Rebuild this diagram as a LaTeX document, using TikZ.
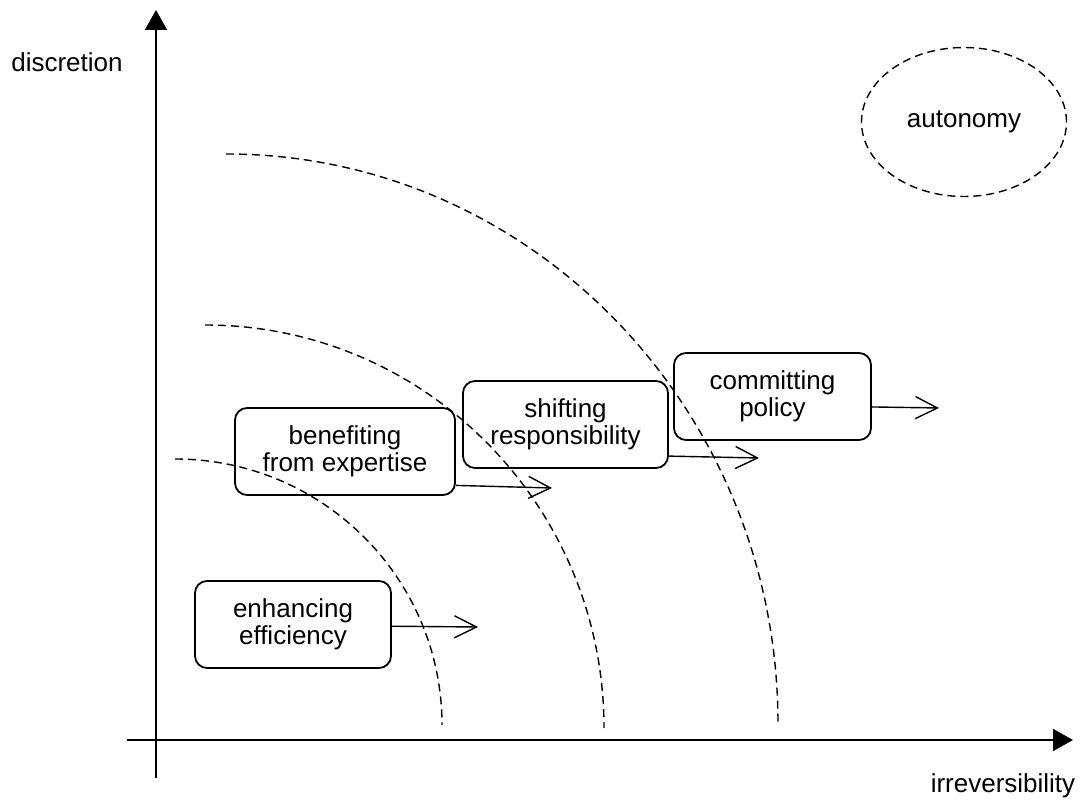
\documentclass[tikz,border=0pt]{standalone}
\usepackage{fontspec}
\setmainfont{Liberation Sans}
\usetikzlibrary{arrows.meta,shapes.geometric}

\begin{document}
\begin{tikzpicture}[
    x=0.5pt, y=-0.5pt,
    every node/.style={font=\fontsize{13pt}{13.5pt}\selectfont},
% Block styles
    stage/.style={rectangle, draw, line width=0.9pt, rounded corners=6pt, minimum height=43.5pt, align=center, inner sep=0pt},
    ring/.style={dashed, line width=0.7pt, dash pattern=on 4pt off 2.5pt},
    axis/.style={line width=1pt, -{Triangle[length=10pt, width=11pt]}},
    nextlevel/.style={line width=0.7pt, -{Straight Barb[length=11pt, width=11pt]}}
]
\useasboundingbox (0,0) rectangle (1082,806);

% 1. Axes
\coordinate (xstart) at (127,740);
\coordinate (xend) at (1073,740);
\coordinate (ystart) at (156,778);
\coordinate (yend) at (156,10);
\draw[axis] (xstart) -- (xend);
\draw[axis] (ystart) -- (yend);
\node[anchor=base] (ylabel) at (67,72) {discretion};
\node[anchor=base] (xlabel) at (1003,792) {irreversibility};

% 2. Levels (dashed quarter ellipses)
\draw[ring] (175,459) arc[start angle=90, end angle=0, x radius=133.5pt, y radius=133pt];
\draw[ring] (205,325) arc[start angle=90, end angle=0, x radius=199.5pt, y radius=201.5pt];
\draw[ring] (226,154) arc[start angle=90, end angle=0, x radius=276pt, y radius=285pt];

% 3. Autonomy
\node[ellipse, draw, ring, minimum width=102.5pt, minimum height=74.5pt] (autonomy) at (964,122) {autonomy};

% 4. Stages
\node[stage, minimum width=98pt] (eff) at (293,624.5) {enhancing\\efficiency};
\node[stage, minimum width=110pt] (exp) at (345,451.5) {benefiting\\from expertise};
\node[stage, minimum width=102.5pt] (resp) at (565.5,424.5) {shifting\\responsibility};
\node[stage, minimum width=98.5pt] (pol) at (772.5,396.5) {committing\\policy};

% Arrows stages -> next level
\coordinate (effTip) at (478,627);
\coordinate (expTip) at (552,488);
\coordinate (respTip) at (759,458);
\coordinate (polTip) at (939,408);
\draw[nextlevel] (eff.-1) -- (effTip);
\draw[nextlevel] (exp.-17) -- (expTip);
\draw[nextlevel] (resp.-17) -- (respTip);
\draw[nextlevel] (pol.-6) -- (polTip);

\end{tikzpicture}
\end{document}
